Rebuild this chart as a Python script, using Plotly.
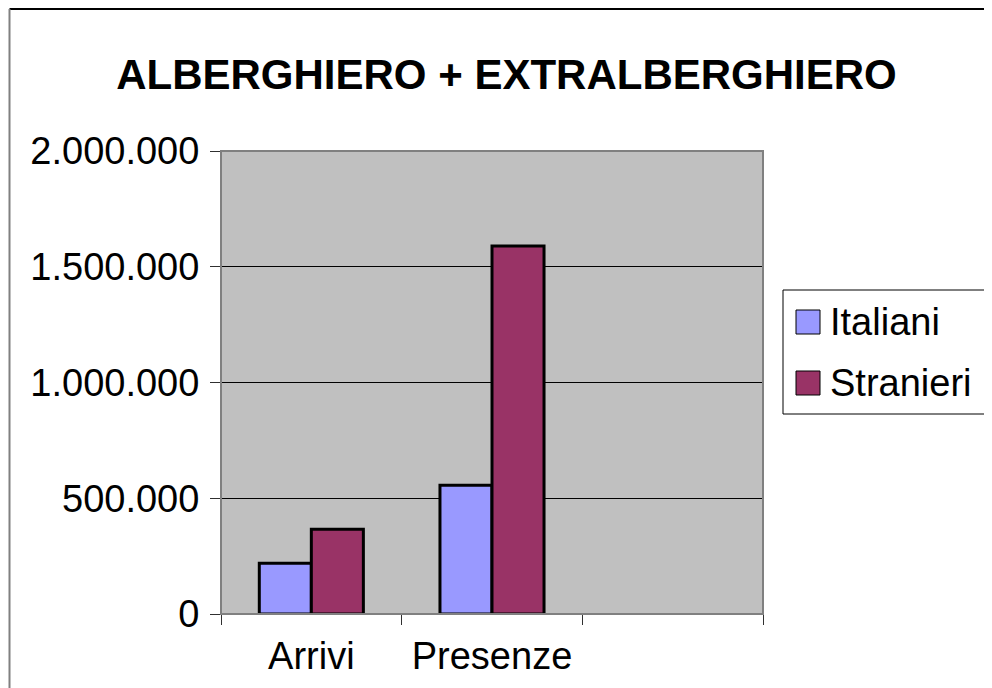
import plotly.graph_objects as go

categories = ["Arrivi", "Presenze", " "]
series_names = ["Italiani", "Stranieri"]
italiani = [219000, 556000, None]
stranieri = [366000, 1590000, None]
y_ticks = [0, 500000, 1000000, 1500000, 2000000]
colors = ["#9999FF", "#993366"]

FONT = "Liberation Sans, Arial, sans-serif"

# figure geometry (page body has an 8px margin)
W, H = 992, 688
L, T, PW, PH = 213, 143, 542, 463


def px(x):
    return (x - L) / PW


def py(y):
    return (T + PH - y) / PH


fig = go.Figure()
for name, vals, col in zip(series_names, [italiani, stranieri], colors):
    fig.add_trace(go.Bar(name=name, x=categories, y=vals, showlegend=False,
                         marker=dict(color=col, line=dict(color="black", width=3))))

fig.update_layout(
    width=W, height=H,
    margin=dict(l=L, r=W - L - PW, t=T, b=H - T - PH),
    paper_bgcolor="white",
    plot_bgcolor="#C0C0C0",
    barmode="group",
    bargap=0.424,
    bargroupgap=0,
    separators=",.",
    font=dict(family=FONT, color="black", size=38),
    title=dict(text="<b>ALBERGHIERO + EXTRALBERGHIERO</b>", x=0.5025, xanchor="center",
               y=1 - 66 / H, yanchor="middle", yref="container",
               font=dict(size=42, family=FONT, color="black")),
    showlegend=False,
)
fig.update_xaxes(
    type="category", categoryorder="array", categoryarray=categories,
    range=[-0.5, 2.5], tickson="boundaries", ticks="outside", ticklen=10,
    tickcolor="#303030", tickwidth=1, showline=True, linecolor="black", linewidth=1,
    showgrid=False, tickfont=dict(size=38, family=FONT), fixedrange=True,
    ticklabelstandoff=8,
)
fig.update_yaxes(
    range=[0, 2000000], tickvals=y_ticks, tickformat=",d", ticks="outside",
    ticklen=10, tickcolor="#303030", tickwidth=1, showgrid=True, gridcolor="black",
    gridwidth=1, showline=False, zeroline=False, tickfont=dict(size=38, family=FONT),
    fixedrange=True, ticklabelstandoff=3,
)
# plot area border
fig.add_shape(type="rect", xref="paper", yref="paper", x0=0, x1=1, y0=0, y1=1,
              line=dict(color="#808080", width=2), layer="above")
# outer chart border (top and left visible)
fig.add_shape(type="line", xref="paper", yref="paper", x0=px(1.5), x1=px(W + 10),
              y0=py(1), y1=py(1), line=dict(color="black", width=2))
fig.add_shape(type="line", xref="paper", yref="paper", x0=px(1.5), x1=px(1.5),
              y0=py(1), y1=py(H + 10), line=dict(color="#808080", width=2))

# legend (drawn manually to match the large swatches)
fig.add_shape(type="rect", xref="paper", yref="paper", x0=px(775), x1=px(981),
              y0=py(282), y1=py(406), line=dict(color="black", width=1), fillcolor="white")
for i, (name, col) in enumerate(zip(series_names, colors)):
    cy = 314 + i * 61
    fig.add_shape(type="rect", xref="paper", yref="paper", x0=px(788), x1=px(812),
                  y0=py(cy - 12), y1=py(cy + 12), line=dict(color="black", width=1),
                  fillcolor=col)
    fig.add_annotation(text=name, xref="paper", yref="paper", x=px(820), y=py(cy),
                       xanchor="left", yanchor="middle", showarrow=False,
                       font=dict(size=38, family=FONT, color="black"))

fig.write_html("out.html")
